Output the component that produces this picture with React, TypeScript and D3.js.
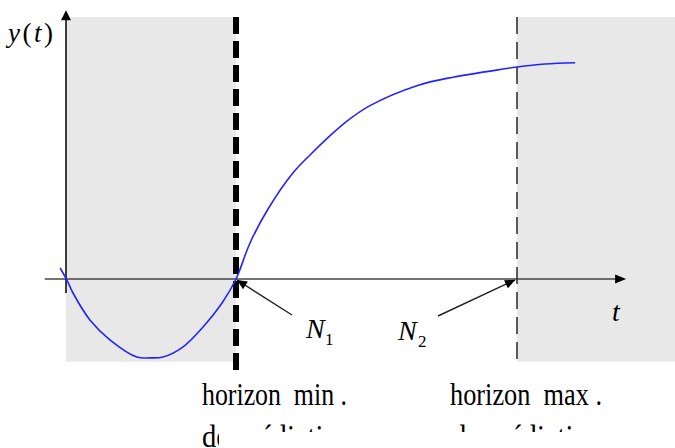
import React from "react";
import * as d3 from "d3";

// ---- data (abstract units: t in sampling steps, y normalized to steady state) ----
const curveT = [-0.13, 0.02, 0.155, 0.53, 0.98, 1.57, 1.86, 2.15, 2.59, 3.04, 3.46, 3.77, 4.08, 4.48, 5.03, 5.41, 5.85, 6.23, 6.74, 7.78, 8.58, 9.33, 10.0, 10.62, 11.29];
const curveY = [0.052, -0.005, -0.066, -0.193, -0.288, -0.368, -0.372, -0.368, -0.321, -0.226, -0.113, 0.0, 0.17, 0.33, 0.5, 0.585, 0.675, 0.745, 0.818, 0.912, 0.952, 0.978, 1.0, 1.014, 1.02];
const horizonMin = 3.77; // N1
const horizonMax = 10; // N2
const axisLabels = { y: "y", t: "t" };
const markerLabels = ["N", "N"];
const markerSubs = ["1", "2"];
const horizonLine1 = ["horizon  min .", "horizon  max ."];
const horizonLine2 = ["de prédiction", "de prédiction"];

const W = 675;
const H = 448;

export default function App() {
  const x = d3.scaleLinear().domain([0, 10]).range([66, 517]);
  const y = d3.scaleLinear().domain([0, 1]).range([279, 67]);

  const pts: [number, number][] = curveT.map((t, i) => [t, curveY[i]]);
  const line = d3
    .line<[number, number]>()
    .x((d) => x(d[0]))
    .y((d) => y(d[1]))
    .curve(d3.curveCatmullRom.alpha(0.5));

  const top = y(1.236);
  const bottom = y(-0.39);
  const x0 = x(0);
  const xN1 = x(horizonMin);
  const xN2 = x(horizonMax);
  const y0 = y(0);

  const serif = "'Times New Roman', 'Liberation Serif', Tinos, serif";

  const arrowHead = (tx: number, ty: number, fx: number, fy: number, len: number, hw: number) => {
    const ang = Math.atan2(ty - fy, tx - fx);
    const bx = tx - len * Math.cos(ang);
    const by = ty - len * Math.sin(ang);
    const px = -Math.sin(ang) * hw;
    const py = Math.cos(ang) * hw;
    return `M${tx},${ty}L${bx + px},${by + py}L${bx - px},${by - py}Z`;
  };

  const n1From: [number, number] = [292, 315];
  const n2From: [number, number] = [438, 316];

  return (
    <svg
      width={W}
      height={H}
      style={{ position: "absolute", left: 0, top: 0, background: "#fff" }}
    >
      {/* shaded regions */}
      <rect x={x0} y={top} width={xN1 - x0} height={bottom - top} fill="#e8e8e8" />
      <rect x={xN2} y={top} width={W - xN2} height={bottom - top} fill="#e8e8e8" />

      {/* x axis */}
      <line x1={x(-0.47)} x2={x(12.3)} y1={y0} y2={y0} stroke="#444" strokeWidth={1.6} />
      <path d={arrowHead(x(12.42), y0, x(0), y0, 11, 4.5)} fill="#000" />

      {/* y axis */}
      <line x1={x0} x2={x0} y1={y(-0.066)} y2={y(1.26)} stroke="#000" strokeWidth={1.5} />
      <path d={arrowHead(x0, y(1.268), x0, y0, 10, 5)} fill="#000" />

      {/* horizon lines */}
      <line x1={xN1} x2={xN1} y1={top} y2={y(-0.44)} stroke="#000" strokeWidth={6} strokeDasharray="17,7" />
      <line x1={xN2} x2={xN2} y1={top} y2={bottom} stroke="#333" strokeWidth={1.6} strokeDasharray="17,8" />

      {/* response curve */}
      <path d={line(pts) || ""} fill="none" stroke="#2424ff" strokeWidth={1.6} />

      {/* pointer arrows */}
      <line x1={n1From[0]} y1={n1From[1]} x2={xN1 + 1} y2={y0 + 1} stroke="#222" strokeWidth={1.4} />
      <path d={arrowHead(xN1 + 1, y0 + 1, n1From[0], n1From[1], 10, 4.5)} fill="#000" />
      <line x1={n2From[0]} y1={n2From[1]} x2={xN2 - 2} y2={y0 + 1} stroke="#222" strokeWidth={1.4} />
      <path d={arrowHead(xN2 - 2, y0 + 1, n2From[0], n2From[1], 10, 4.5)} fill="#000" />

      {/* axis labels */}
      <text x={8} y={42} fontFamily={serif} fontSize={27} fill="#000" textLength={45} lengthAdjust="spacing">
        <tspan fontStyle="italic">{axisLabels.y}</tspan>
        <tspan>(</tspan>
        <tspan fontStyle="italic">{axisLabels.t}</tspan>
        <tspan>)</tspan>
      </text>
      <text x={612} y={321} fontFamily={serif} fontSize={28} fontStyle="italic" fill="#000">
        {axisLabels.t}
      </text>

      {/* N labels */}
      <text x={306} y={338} fontFamily={serif} fontSize={28} fontStyle="italic" fill="#000">
        {markerLabels[0]}
      </text>
      <text x={325} y={345} fontFamily={serif} fontSize={17} fill="#000">
        {markerSubs[0]}
      </text>
      <text x={398} y={340} fontFamily={serif} fontSize={28} fontStyle="italic" fill="#000">
        {markerLabels[1]}
      </text>
      <text x={418} y={347} fontFamily={serif} fontSize={17} fill="#000">
        {markerSubs[1]}
      </text>

      {/* horizon captions */}
      <text x={202} y={405} fontFamily={serif} fontSize={31} fill="#000" textLength={145} lengthAdjust="spacingAndGlyphs" style={{ whiteSpace: "pre" }}>
        {horizonLine1[0]}
      </text>
      <text x={450} y={405} fontFamily={serif} fontSize={31} fill="#000" textLength={152} lengthAdjust="spacingAndGlyphs" style={{ whiteSpace: "pre" }}>
        {horizonLine1[1]}
      </text>
      <text x={202} y={447} fontFamily={serif} fontSize={31} fill="#000" textLength={150} lengthAdjust="spacingAndGlyphs">
        {horizonLine2[0]}
      </text>
      <text x={452} y={447} fontFamily={serif} fontSize={31} fill="#000" textLength={150} lengthAdjust="spacingAndGlyphs">
        {horizonLine2[1]}
      </text>
      {/* occlusion of second caption line as in the source */}
      <rect x={219} y={432} width={W - 219} height={H - 432} fill="#fff" />
    </svg>
  );
}
